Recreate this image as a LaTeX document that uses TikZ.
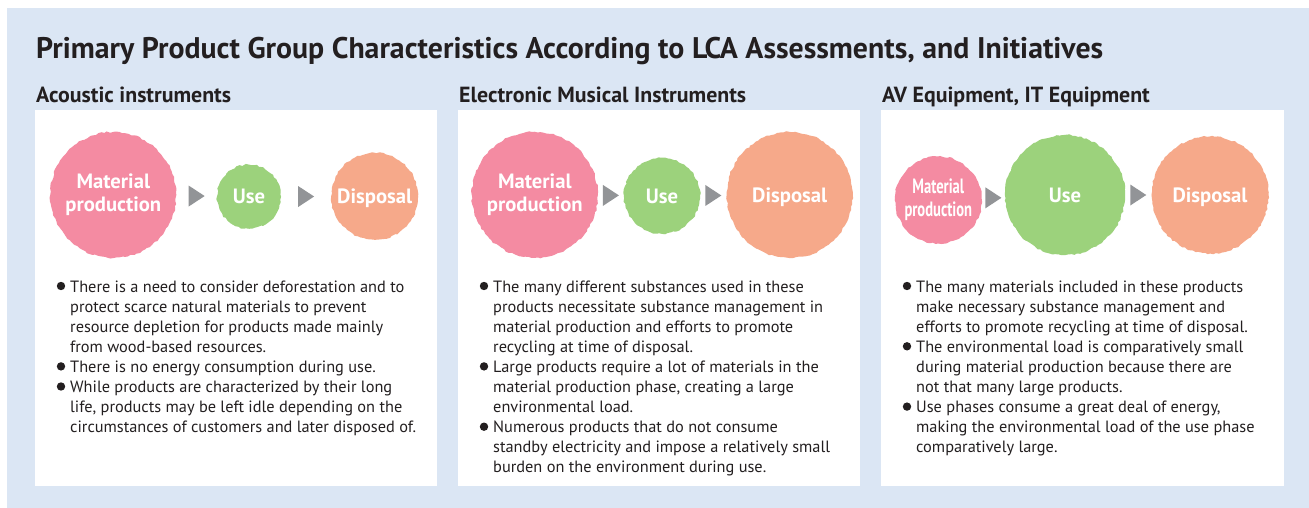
\documentclass[tikz,border=0pt]{standalone}
\usepackage{fontspec}
\setmainfont{PT Sans}
\usetikzlibrary{calc,decorations.pathmorphing}
\definecolor{bgblue}{RGB}{219,230,244}
\definecolor{pinkb}{RGB}{244,139,162}
\definecolor{greenb}{RGB}{156,210,124}
\definecolor{orangeb}{RGB}{246,169,138}
\definecolor{arrowgray}{RGB}{146,148,151}
\definecolor{ink}{RGB}{35,31,32}
\newlength\fitw
\newcommand\fitsize[4]{\settowidth\fitw{#2\fontsize{10pt}{12pt}\selectfont #4}\pgfmathsetmacro#1{10*#3/\fitw}}
\newcommand\flowtri[2]{%
  \path (#1) -- coordinate[midway] (#1#2tri) (#2);
  \fill[arrowgray] ($(#1#2tri)+(-8,-10.5)$) -- ($(#1#2tri)+(8,0)$) -- ($(#1#2tri)+(-8,10.5)$) -- cycle;}
\newcommand\narrowtxt[1]{\scalebox{0.705}[1]{#1}}
\tikzset{
  panelbox/.style={fill=white},
  blob/.style={circle, inner sep=0pt, decorate,
    decoration={random steps, segment length=3pt, amplitude=0.8pt},
    text=white, align=center,
    font=\bfseries\fontsize{\blobsize pt}{23.3pt}\selectfont},
  oneline/.style={text height=\capht pt, text depth=0pt},
  titletext/.style={anchor=base west, inner sep=0pt, text=ink,
    font=\bfseries\fontsize{\titlesize pt}{30pt}\selectfont},
  subtext/.style={anchor=base west, inner sep=0pt, text=ink,
    font=\bfseries\fontsize{\subsize pt}{22pt}\selectfont},
  bodytext/.style={anchor=base west, inner sep=0pt, text=ink, align=left,
    font=\fontsize{\bodysize pt}{20.1pt}\selectfont},
  bulletdot/.style={fill=ink},
}
\begin{document}
\fitsize\titlesize{\bfseries}{1067}{Primary Product Group Characteristics According to LCA Assessments, and Initiatives}%
\fitsize\subsize{\bfseries}{287}{Electronic Musical Instruments}%
\fitsize\bodysize{}{346}{circumstances of customers and later disposed of.}%
\fitsize\blobsize{\bfseries}{75}{Disposal}%
\pgfmathsetmacro\capht{0.70*\blobsize}%
\begin{tikzpicture}[x=1pt,y=-1pt]
\pgfmathsetseed{7}
\useasboundingbox (0,0) rectangle (1309,508);
\fill[white] (0,0) rectangle (1309,508);
\fill[bgblue] (7,8) rectangle (1309,508);
% panels
\fill[panelbox] (35,110) rectangle (437,486);
\fill[panelbox] (458,110) rectangle (860,486);
\fill[panelbox] (881,110) rectangle (1284,486);
% titles
\node[titletext] (title) at (36,58.3) {Primary Product Group Characteristics According to LCA Assessments, and Initiatives};
\node[subtext] (sub1) at (36,102.7) {Acoustic instruments};
\node[subtext] (sub2) at (459,102.7) {Electronic Musical Instruments};
\node[subtext] (sub3) at (882,102.7) {AV Equipment, IT Equipment};
% panel 1 blobs
\node[blob, fill=pinkb, minimum size=126pt] (mp1) at (113.3,195) {Material\\production};
\node[blob, oneline, fill=greenb, minimum size=64pt] (use1) at (249,196.7) {Use};
\node[blob, oneline, fill=orangeb, minimum size=87pt] (dis1) at (374.7,196.3) {Disposal};
% panel 2 blobs
\node[blob, fill=pinkb, minimum size=126pt] (mp2) at (534.8,194.8) {Material\\production};
\node[blob, oneline, fill=greenb, minimum size=76pt] (use2) at (662,195.8) {Use};
\node[blob, oneline, fill=orangeb, minimum size=126pt] (dis2) at (789.7,195) {Disposal};
% panel 3 blobs
\node[blob, fill=pinkb, minimum size=87pt] (mp3) at (938.3,200) {\narrowtxt{Material}\\\narrowtxt{production}};
\node[blob, oneline, fill=greenb, minimum size=120pt] (use3) at (1065,195) {Use};
\node[blob, oneline, fill=orangeb, minimum size=117pt] (dis3) at (1210,195) {Disposal};
% flow triangles
\flowtri{mp1}{use1}
\flowtri{use1}{dis1}
\flowtri{mp2}{use2}
\flowtri{use2}{dis2}
\flowtri{mp3}{use3}
\flowtri{use3}{dis3}
% body texts (base anchor = baseline of the last line)
\node[bodytext] (txt1) at (70,432.7) {There is a need to consider deforestation and to\\
protect scarce natural materials to prevent\\
resource depletion for products made mainly\\
from wood-based resources.\\
There is no energy consumption during use.\\
While products are characterized by their long\\
life, products may be left idle depending on the\\
circumstances of customers and later disposed of.};
\node[bodytext] (txt2) at (493,472.9) {The many different substances used in these\\
products necessitate substance management in\\
material production and efforts to promote\\
recycling at time of disposal.\\
Large products require a lot of materials in the\\
material production phase, creating a large\\
environmental load.\\
Numerous products that do not consume\\
standby electricity and impose a relatively small\\
burden on the environment during use.};
\node[bodytext] (txt3) at (916,452.8) {The many materials included in these products\\
make necessary substance management and\\
efforts to promote recycling at time of disposal.\\
The environmental load is comparatively small\\
during material production because there are\\
not that many large products.\\
Use phases consume a great deal of energy,\\
making the environmental load of the use phase\\
comparatively large.};
% bullets (k = lines above the last one)
\foreach \t/\k in {txt1/7, txt1/3, txt1/2, txt2/9, txt2/5, txt2/2, txt3/8, txt3/5, txt3/2}
  \fill[bulletdot] ($(\t.base west)+(-9,-6-20.1*\k)$) circle[radius=4.2pt];
\end{tikzpicture}
\end{document}
